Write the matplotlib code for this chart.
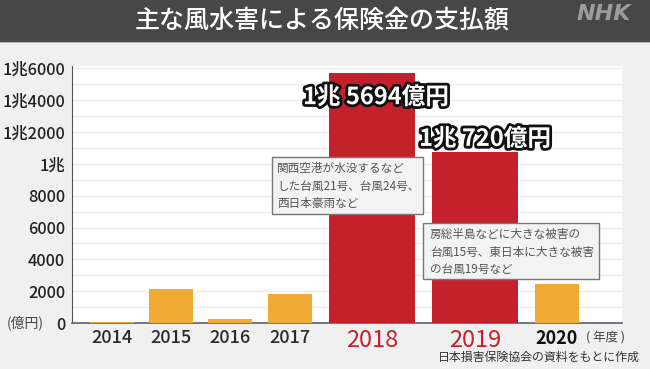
import matplotlib.pyplot as plt
import matplotlib.patheffects as pe
from matplotlib.patches import Rectangle

plt.rcParams['font.family'] = ['Noto Sans CJK JP', 'DejaVu Sans']

years = ["2014", "2015", "2016", "2017", "2018", "2019", "2020"]
payouts = [40, 2150, 230, 1850, 15694, 10720, 2480]  # 億円
ytick_vals = [0, 2000, 4000, 6000, 8000, 10000, 12000, 14000, 16000]
ytick_labels = ["0", "2000", "4000", "6000", "8000", "1兆", "1兆2000", "1兆4000", "1兆6000"]
big_labels = ["1兆 5694億円", "1兆 720億円"]
notes = ["関西空港が水没するなど\nした台風21号、台風24号、\n西日本豪雨など",
         "房総半島などに大きな被害の\n台風15号、東日本に大きな被害\nの台風19号など"]

# layout (pixel units of a 650x369 picture)
W, H = 650, 369
xpos = [40, 99, 158, 218, 300, 403, 485]
widths = [44, 44, 44, 44, 86, 86, 44]
orange = "#efaa36"
red = "#c4212c"
colors = [orange, orange, orange, orange, red, red, orange]


def fx(px):
    return px / W


def fy(py):
    return 1 - py / H


fig = plt.figure(figsize=(6.5, 3.69), dpi=100)
fig.patch.set_facecolor("#f0f0f0")

# title bar
fig.add_artist(Rectangle((0, fy(42)), 1, 42 / H, transform=fig.transFigure,
                         facecolor="#474747", edgecolor="none"))
fig.add_artist(Rectangle((0, fy(43)), 1, 1 / H, transform=fig.transFigure,
                         facecolor="#b5b5b5", edgecolor="none"))
fig.text(fx(322), fy(21), "主な風水害による保険金の支払額", color="white",
         fontsize=18, fontweight="medium", ha="center", va="center")
fig.text(fx(604), fy(14), "NHK", color="#9c9c9c", fontsize=16,
         fontweight="bold", style="italic", ha="center", va="center",
         family=["DejaVu Sans"])

ax = fig.add_axes([fx(72), fy(323), fx(622) - fx(72), (323 - 66) / H])
ax.set_facecolor("white")
ax.bar(xpos, payouts, width=widths, color=colors, zorder=3)
ax.set_xlim(0, 550)
ax.set_ylim(0, 16150)

ax.set_yticks(range(0, 16001, 1000), minor=True)
ax.set_yticks(ytick_vals, ytick_labels)
ax.grid(axis="y", which="both", color="#ececec", linewidth=1, zorder=0)
ax.tick_params(axis="y", which="both", length=0, pad=5, labelsize=11.8,
               labelcolor="#222222")
for lab in ax.get_yticklabels():
    lab.set_fontweight("medium")

ax.set_xticks(xpos, years)
ax.tick_params(axis="x", length=0, pad=4, labelsize=13, labelcolor="#2a2a2a")
for lab, yr in zip(ax.get_xticklabels(), years):
    if yr in ("2018", "2019"):
        lab.set_color(red)
        lab.set_fontsize(17)
    elif yr == "2020":
        lab.set_fontweight("bold")
        lab.set_color("#111111")
    else:
        lab.set_fontweight("medium")

for s in ("top", "right"):
    ax.spines[s].set_visible(False)
ax.spines["left"].set_color("#555555")
ax.spines["bottom"].set_color("#5a5f75")
ax.spines["bottom"].set_linewidth(1.2)

# big value labels
stroke = [pe.withStroke(linewidth=4, foreground="#111111")]
ax.text(xpos[4] + 4, payouts[4] - 1500, big_labels[0], color="white",
        fontsize=17, fontweight="bold", ha="center", va="center",
        path_effects=stroke, zorder=5)
ax.text(xpos[5] + 10, payouts[5] + 850, big_labels[1], color="white",
        fontsize=17, fontweight="bold", ha="center", va="center",
        path_effects=stroke, zorder=5)

# note boxes
for (x0, y0, x1, y1), tx, ty, txt in [((272, 157, 423, 214), 277, 186, notes[0]),
                                      ((423, 223, 599, 279), 430, 252, notes[1])]:
    fig.add_artist(Rectangle((fx(x0), fy(y1)), fx(x1 - x0), (y1 - y0) / H,
                             transform=fig.transFigure, facecolor="#f3f3f3",
                             edgecolor="#777777", linewidth=1, zorder=6))
    fig.text(fx(tx), fy(ty), txt, color="#555555", fontsize=8.4,
             ha="left", va="center", linespacing=1.45, zorder=7)

fig.text(fx(25), fy(323), "(億円)", color="#444444", fontsize=10,
         ha="center", va="center")
fig.text(fx(606), fy(338), "( 年度 )", color="#444444", fontsize=9,
         ha="center", va="center")
fig.text(fx(640), fy(357), "日本損害保険協会の資料をもとに作成", color="#333333",
         fontsize=8.6, ha="right", va="center")

fig.savefig("out.png", dpi=100, facecolor=fig.get_facecolor())
